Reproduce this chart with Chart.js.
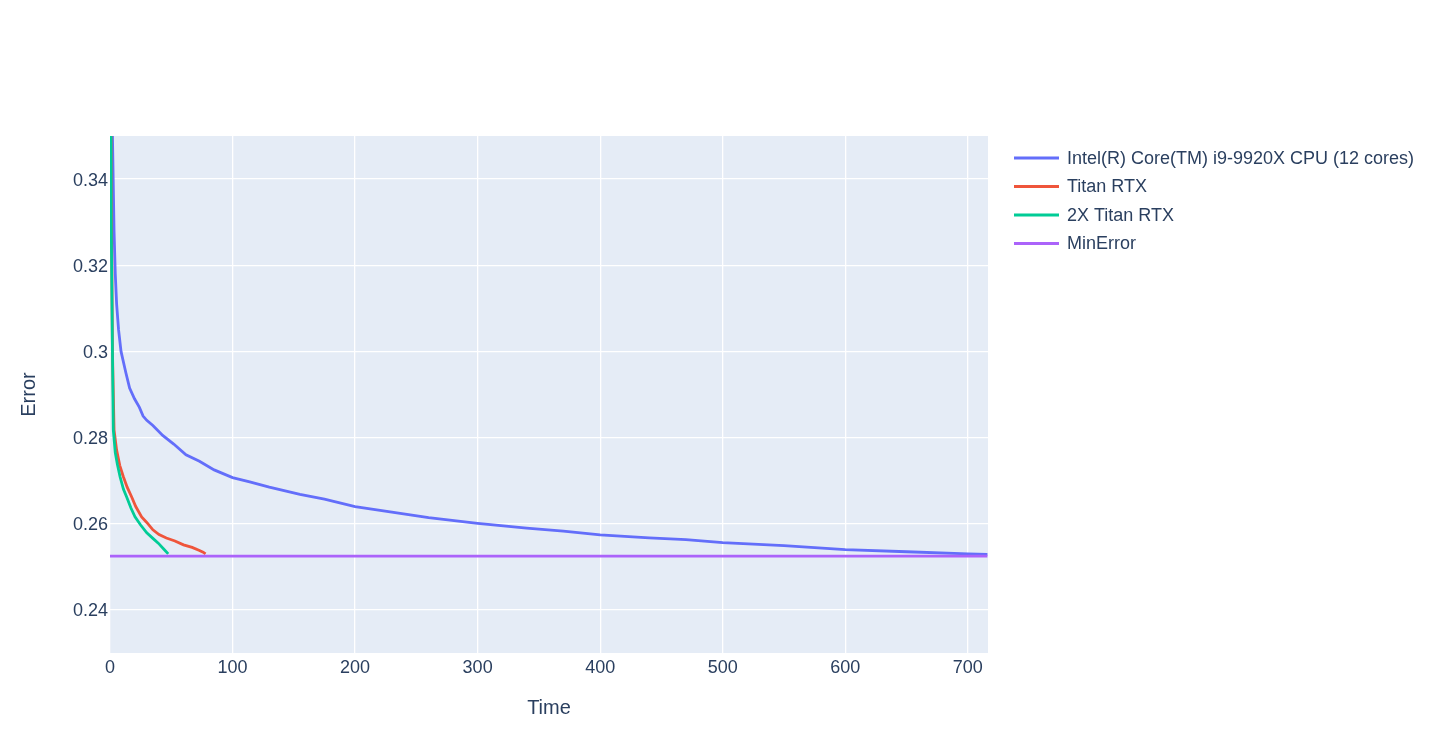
<!DOCTYPE html>
<html>
<head>
<meta charset="utf-8">
<script src="https://cdn.jsdelivr.net/npm/chart.js@4.4.1/dist/chart.umd.min.js"></script>
<style>
  html, body { margin: 0; padding: 0; background: #ffffff; }
  #wrap { width: 1438px; height: 740px; }
</style>
</head>
<body>
<div id="wrap"><canvas id="c" width="1438" height="740"></canvas></div>
<script>
// ---- Data ----
const seriesNames = ["Intel(R) Core(TM) i9-9920X CPU (12 cores)", "Titan RTX", "2X Titan RTX", "MinError"];

const cpuTime  = [0, 1, 2, 3.3, 4.3, 5.4, 7, 9, 11, 13, 16, 20, 24, 27, 30, 35, 43, 52, 62, 73, 85, 100, 114, 130, 155, 175, 200, 230, 260, 300, 340, 370, 400, 440, 470, 500, 550, 600, 650, 700, 716];
const cpuError = [0.45, 0.39, 0.35, 0.328, 0.318, 0.311, 0.305, 0.300, 0.2975, 0.2950, 0.2915, 0.2890, 0.2870, 0.2850, 0.2840, 0.2828, 0.2805, 0.2785, 0.2760, 0.2745, 0.2725, 0.2707, 0.2697, 0.2685, 0.2668, 0.2657, 0.2640, 0.2627, 0.2614, 0.2601, 0.2590, 0.2583, 0.2574, 0.2567, 0.2563, 0.2556, 0.2549, 0.2540, 0.2535, 0.2530, 0.2529];

const titanTime  = [0, 1, 2, 3.3, 5.4, 8, 10.9, 14, 17.7, 21, 25.8, 30, 35, 40, 46, 53, 60, 67, 73, 76, 78];
const titanError = [0.42, 0.34, 0.30, 0.2818, 0.2771, 0.2735, 0.2709, 0.2685, 0.2662, 0.2640, 0.2616, 0.2603, 0.2586, 0.2575, 0.2567, 0.2560, 0.2551, 0.2545, 0.2538, 0.2534, 0.2530];

const titan2Time  = [0, 1, 2, 2.7, 4.3, 6, 8.2, 11, 13.6, 17, 20.4, 25, 30, 35, 39.4, 44, 47.5];
const titan2Error = [0.42, 0.33, 0.30, 0.2818, 0.2765, 0.2738, 0.2709, 0.2680, 0.2662, 0.2637, 0.2616, 0.2597, 0.2579, 0.2566, 0.2555, 0.2541, 0.2530];

const minTime  = [0, 716];
const minError = [0.2525, 0.2525];

const xTicks = [0, 100, 200, 300, 400, 500, 600, 700];
const yTicks = [0.24, 0.26, 0.28, 0.30, 0.32, 0.34];
const xRange = [0, 716.5];
const yRange = [0.23, 0.35];

const colors = ["#636efa", "#EF553B", "#00cc96", "#ab63fa"];
const textColor = "#2a3f5f";
const fontFamily = "'Liberation Sans', Arial, sans-serif";

function pts(xs, ys) { return xs.map((x, i) => ({ x: x, y: ys[i] })); }

const seriesData = [pts(cpuTime, cpuError), pts(titanTime, titanError), pts(titan2Time, titan2Error), pts(minTime, minError)];

const datasets = seriesData.map((d, i) => ({
  label: seriesNames[i],
  data: d,
  borderColor: colors[i],
  backgroundColor: colors[i],
  borderWidth: 2.8,
  pointRadius: 0,
  tension: 0,
  fill: false,
  order: 4 - i
}));

// Plot background
const bgPlugin = {
  id: 'bg',
  beforeDraw(chart) {
    const { ctx, chartArea: a } = chart;
    ctx.save();
    ctx.fillStyle = '#E5ECF6';
    ctx.fillRect(a.left, a.top, a.right - a.left, a.bottom - a.top);
    ctx.restore();
  }
};

// Legend and axis titles
const decoPlugin = {
  id: 'deco',
  afterDraw(chart) {
    const { ctx, chartArea: a } = chart;
    ctx.save();
    // legend
    ctx.font = "18px " + fontFamily;
    ctx.textBaseline = 'middle';
    ctx.textAlign = 'left';
    seriesNames.forEach((name, i) => {
      const y = 158 + i * 28.5;
      ctx.strokeStyle = colors[i];
      ctx.lineWidth = 3;
      ctx.beginPath();
      ctx.moveTo(1014, y);
      ctx.lineTo(1059, y);
      ctx.stroke();
      ctx.fillStyle = textColor;
      ctx.fillText(name, 1067, y + 1);
    });
    // axis titles
    ctx.font = "20px " + fontFamily;
    ctx.fillStyle = textColor;
    ctx.textAlign = 'center';
    ctx.fillText("Time", (a.left + a.right) / 2, 708);
    ctx.translate(29, (a.top + a.bottom) / 2);
    ctx.rotate(-Math.PI / 2);
    ctx.fillText("Error", 0, 0);
    ctx.restore();
  }
};

new Chart(document.getElementById('c'), {
  type: 'line',
  data: { datasets: datasets },
  options: {
    responsive: false,
    animation: false,
    devicePixelRatio: 1,
    layout: { padding: { top: 136, right: 450, bottom: 0, left: 0 } },
    plugins: { legend: { display: false }, tooltip: { enabled: false } },
    scales: {
      x: {
        type: 'linear',
        min: xRange[0], max: xRange[1],
        afterBuildTicks(s) { s.ticks = xTicks.map(v => ({ value: v })); },
        afterFit(s) { s.height = 87; },
        grid: { color: '#ffffff', lineWidth: 1.3, drawTicks: false },
        border: { display: false },
        ticks: { color: textColor, font: { family: fontFamily, size: 18 }, padding: 4, maxRotation: 0,
                 callback: v => String(v) }
      },
      y: {
        type: 'linear',
        min: yRange[0], max: yRange[1],
        afterBuildTicks(s) { s.ticks = yTicks.map(v => ({ value: v })); },
        afterFit(s) { s.width = 110; },
        grid: { color: '#ffffff', lineWidth: 1.3, drawTicks: false },
        border: { display: false },
        ticks: { color: textColor, font: { family: fontFamily, size: 18 }, padding: 2, labelOffset: 1.5,
                 callback: v => String(parseFloat(v.toFixed(2))) }
      }
    }
  },
  plugins: [bgPlugin, decoPlugin]
});
</script>
</body>
</html>
